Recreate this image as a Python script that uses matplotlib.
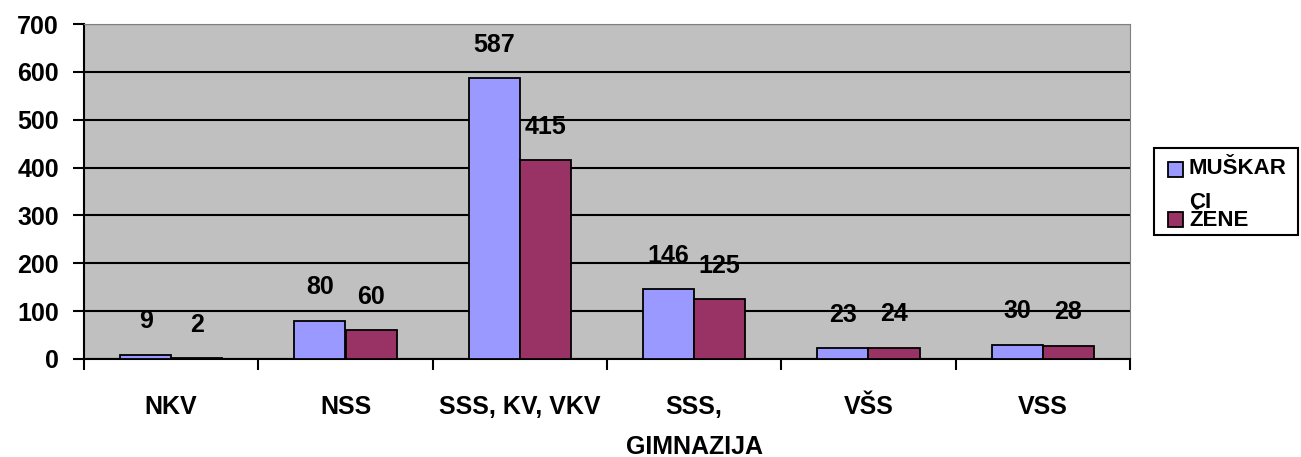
import numpy as np
import matplotlib.pyplot as plt
from matplotlib.ticker import FixedLocator
from matplotlib.patches import Rectangle

categories = ['NKV', 'NSS', 'SSS, KV, VKV', 'SSS,\nGIMNAZIJA', 'VŠS', 'VSS']
muskarci = [9, 80, 587, 146, 23, 30]
zene = [2, 60, 415, 125, 24, 28]
legend_lines = ['MUŠKAR', 'CI', 'ŽENE']
yticks = [0, 100, 200, 300, 400, 500, 600, 700]
colors = ['#9999FF', '#993366']

plt.rcParams['font.family'] = ['Liberation Sans', 'DejaVu Sans']
plt.rcParams['font.weight'] = 'bold'

W, H = 1301, 457
fig = plt.figure(figsize=(W / 100, H / 100), dpi=100)
ax = fig.add_axes([84 / W, 1 - 359 / H, (1130 - 84) / W, (359 - 24) / H])
ax.set_facecolor('#C0C0C0')

x = np.arange(len(categories))
w = 0.293
b1 = ax.bar(x - w / 2, muskarci, w, color=colors[0], edgecolor='black', linewidth=1.3, zorder=3)
b2 = ax.bar(x + w / 2, zene, w, color=colors[1], edgecolor='black', linewidth=1.3, zorder=3)

for bars in (b1, b2):
    for r in bars:
        ax.annotate(f'{int(r.get_height())}', (r.get_x() + r.get_width() / 2, r.get_height()),
                    xytext=(0, 24), textcoords='offset points', ha='center', va='center',
                    fontsize=18, fontweight='bold', zorder=4)

ax.set_xlim(-0.5, len(categories) - 0.5)
ax.set_ylim(0, 700)
ax.set_yticks(yticks)
ax.yaxis.grid(True, color='black', linewidth=1.5, zorder=1)
ax.tick_params(axis='y', labelsize=18, length=8, width=1.5, direction='out', pad=10)

ax.xaxis.set_major_locator(FixedLocator(np.arange(-0.5, len(categories), 1.0)))
ax.xaxis.set_minor_locator(FixedLocator(x))
ax.set_xticklabels([])
ax.set_xticklabels(categories, minor=True, linespacing=1.85)
ax.tick_params(axis='x', which='major', length=8, width=1.5, direction='out')
ax.tick_params(axis='x', which='minor', length=0, labelsize=18, pad=26)
for t in ax.get_xticklabels(minor=True) + ax.get_yticklabels():
    t.set_fontweight('bold')

ax.spines['left'].set_linewidth(1.5)
ax.spines['bottom'].set_linewidth(1.5)
ax.spines['top'].set_color('#808080')
ax.spines['right'].set_color('#808080')

# legend drawn by hand (Excel wrapped the first label)
def fx(px):
    return px / W

def fy(py):
    return 1 - py / H

fig.patches.append(Rectangle((fx(1154), fy(235)), 144 / W, 87 / H, transform=fig.transFigure,
                             facecolor='white', edgecolor='black', linewidth=1.5))
fig.patches.append(Rectangle((fx(1168), fy(177)), 15 / W, 15 / H, transform=fig.transFigure,
                             facecolor=colors[0], edgecolor='black', linewidth=1.3))
fig.patches.append(Rectangle((fx(1168), fy(227)), 15 / W, 15 / H, transform=fig.transFigure,
                             facecolor=colors[1], edgecolor='black', linewidth=1.3))
for txt, py in zip(legend_lines, [169, 202, 220]):
    fig.text(fx(1189), fy(py), txt, fontsize=16, fontweight='bold', ha='left', va='center')

fig.savefig('out.png', dpi=100)
